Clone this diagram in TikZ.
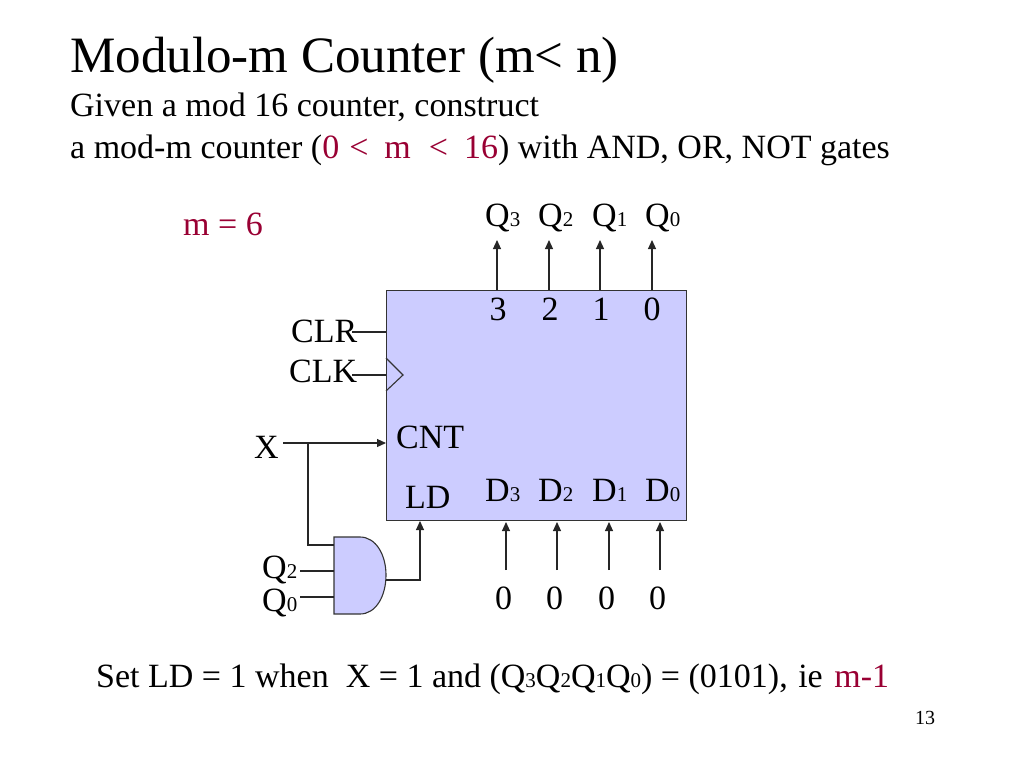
\documentclass[tikz,border=0pt]{standalone}
\usepackage{fontspec}
\setmainfont{Liberation Serif}
\usetikzlibrary{arrows.meta}
\definecolor{mred}{RGB}{153,0,51}
\definecolor{blockfill}{RGB}{204,204,255}
\newcommand{\sbs}[1]{{\fontsize{21}{21}\selectfont #1}}
\tikzset{
  x=1pt,y=-1pt,
  txt/.style={inner sep=0pt,anchor=base west,font=\fontsize{34}{34}\selectfont},
  big/.style={inner sep=0pt,anchor=base west,font=\fontsize{51}{51}\selectfont},
  wire/.style={draw=black!85,line width=1.1pt},
  arr/.style={wire,-{Triangle[length=9pt,width=8pt]}},
  blockst/.style={draw=black!80,fill=blockfill,line width=1.1pt}
}
\begin{document}
\begin{tikzpicture}
\useasboundingbox (0,0) rectangle (1024,768);
\node[big] (title) at (70,72) {Modulo-m Counter (m< n)};
\node[txt] (l1) at (70,116) {Given a mod 16 counter, construct};
\node[txt] (l2) at (70,158) {a mod-m counter (\textcolor{mred}{0\hspace{10pt}<\hspace{16pt}m\hspace{18pt}<\hspace{16pt}16}) with AND, OR, NOT gates};
\node[txt,text=mred] (meq) at (183,235) {m = 6};

\node[blockst,minimum width=300pt,minimum height=230pt,inner sep=0pt,anchor=north west] (box) at (386,290) {};
\draw[blockst,fill=none] (386,358) coordinate (ta) -- (403,375) coordinate (tb) -- (386,391) coordinate (tc);

\node[txt] (q3) at (485,226) {Q\sbs{3}};
\node[txt] (q2) at (538,226) {Q\sbs{2}};
\node[txt] (q1) at (592,226) {Q\sbs{1}};
\node[txt] (q0) at (645,226) {Q\sbs{0}};
\node[txt] (n3) at (489.5,320) {3};
\node[txt] (n2) at (541.5,320) {2};
\node[txt] (n1) at (592.5,320) {1};
\node[txt] (n0) at (643.5,320) {0};

\foreach \n/\x in {3/497,2/549,1/600,0/652}{
  \coordinate (qs\n) at (\x,290);
  \coordinate (qe\n) at (\x,240);
  \draw[arr] (qs\n) -- (qe\n);
}
\node[txt] (clr) at (291,342) {CLR};
\node[txt] (clk) at (289,382) {CLK};
\node[txt] (x) at (254,458) {X};
\node[txt] (cnt) at (396,448) {CNT};
\node[txt] (ld) at (405,508) {LD};
\node[txt] (d3) at (485,501) {D\sbs{3}};
\node[txt] (d2) at (538,501) {D\sbs{2}};
\node[txt] (d1) at (592,501) {D\sbs{1}};
\node[txt] (d0) at (645,501) {D\sbs{0}};
\node[txt] (z3) at (495,609) {0};
\node[txt] (z2) at (546,609) {0};
\node[txt] (z1) at (598,609) {0};
\node[txt] (z0) at (649,609) {0};
\foreach \n/\x in {3/506,2/557,1/609,0/660}{
  \coordinate (ds\n) at (\x,570);
  \coordinate (de\n) at (\x,522);
  \draw[arr] (ds\n) -- (de\n);
}
\coordinate (clrs) at (352,332); \coordinate (clre) at (386,332);
\coordinate (clks) at (352,375); \coordinate (clke) at (386,375);
\draw[wire] (clrs) -- (clre);
\draw[wire] (clks) -- (clke);
\coordinate (xs) at (283,443); \coordinate (xe) at (386,443); \coordinate (xb) at (308,443);
\draw[arr] (xs) -- (xe);

\draw[blockst] (334,537) coordinate (gtl) -- (360,537) .. controls (376,537) and (386,555) .. (386,575) coordinate (gout)
  .. controls (386,596) and (376,614) .. (360,614) -- (334,614) coordinate (gbl) -- cycle;
\coordinate (g1) at (334,545);
\coordinate (g2) at (334,571);
\coordinate (g3) at (334,597);
\coordinate (q2s) at (300,571);
\coordinate (q0s) at (300,597);
\coordinate (gout2) at (386,580);
\coordinate (ldin) at (420,521);
\draw[wire] (xb) |- (g1);
\draw[wire] (q2s) -- (g2);
\draw[wire] (q0s) -- (g3);
\draw[arr] (gout2) -| (ldin);
\node[txt] (gq2) at (262,578) {Q\sbs{2}};
\node[txt] (gq0) at (262,611) {Q\sbs{0}};

\node[txt] (bot) at (96,687) {Set LD = 1 when \ X = 1 and (Q\sbs{3}Q\sbs{2}Q\sbs{1}Q\sbs{0}) = (0101),\hspace{2pt} ie\hspace{3pt} \textcolor{mred}{m-1}};
\node[inner sep=0pt,anchor=base west,font=\fontsize{20}{20}\selectfont] (pg) at (915,724) {13};
\end{tikzpicture}
\end{document}
